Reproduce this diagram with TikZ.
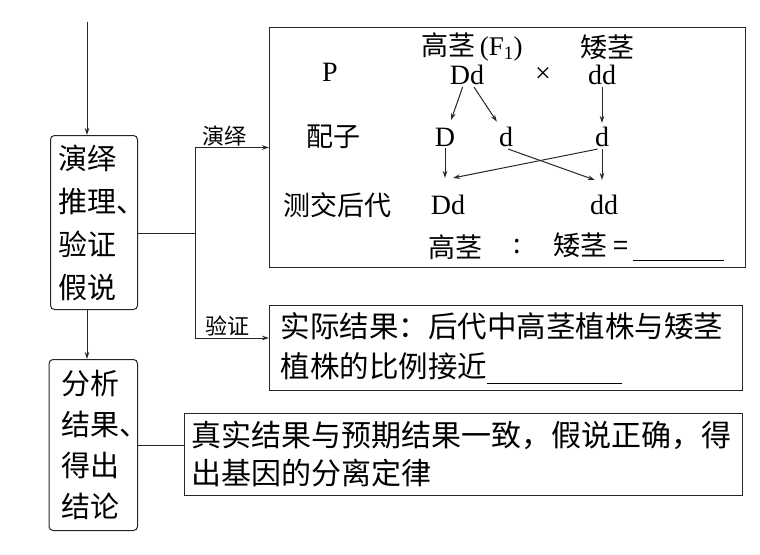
\documentclass[tikz,border=0pt]{standalone}
\usepackage{fontspec}
\setmainfont{Liberation Serif}
\newfontfamily\cjk{Noto Sans CJK SC}
\usetikzlibrary{arrows.meta}
\tikzset{
	line/.style={draw=black!85, line width=1pt},
	arr/.style={line, -{Stealth[length=7pt,width=4.5pt]}},
	box/.style={line, inner ysep=0pt, align=left, anchor=north west},
	side/.style={box, rounded corners=4pt, font=\cjk\fontsize{29}{43}\selectfont},
	wide/.style={box, font=\cjk\fontsize{29.5}{40}\selectfont},
	lab/.style={inner sep=2pt, font=\cjk\fontsize{27}{27}\selectfont},
	gen/.style={inner sep=2pt, font=\fontsize{28}{28}\selectfont},
	edgelab/.style={above, inner sep=1pt, font=\cjk\fontsize{22}{22}\selectfont}
}

\begin{document}
\begin{tikzpicture}[x=1pt, y=-1pt]
			%%%%% START %%%%%
			\useasboundingbox (0, 0) rectangle (760, 554);
			
			\coordinate (origin) at (87, 22);
			\node[side, minimum width=87pt, minimum height=174pt, inner xsep=8pt, text width=71pt] (deduce) at (50, 135) {演绎\\推理、\\验证\\假说};
			\node[side, minimum width=88.5pt, minimum height=171pt, inner xsep=12.5pt, text width=63.5pt, font=\cjk\fontsize{29}{40.7}\selectfont] (conclude) at (48.5, 359) {分析\\结果、\\得出\\结论};
			\draw[arr] (origin) -- (origin |- deduce.north);
			\draw[arr] (deduce.south -| origin) -- (conclude.north -| origin);
			
			% test cross
			\node[box, minimum width=476pt, minimum height=240pt] (cross) at (269, 27) {};
			\node[gen] (rowP) at (330, 72) {P};
			\node[lab] (tall) at (472, 47) {高茎\,{\rmfamily (F\textsubscript{1})}};
			\node[lab] (short) at (607, 47) {矮茎};
			\node[gen] (pDd) at (467, 75) {Dd};
			\node[gen] (times) at (543, 75) {×};
			\node[gen] (pdd) at (602, 75) {dd};
			
			\node[lab] (rowG) at (333, 137) {配子};
			\node[gen] (gD) at (445, 137) {D};
			\node[gen] (gd) at (506, 137) {d};
			\node[gen] (gdd) at (602, 137) {d};
			
			\node[lab] (rowO) at (337, 205) {测交后代};
			\node[gen] (oDd) at (448, 205) {Dd};
			\node[gen] (odd) at (604, 205) {dd};
			
			\node[lab] (ratioT) at (455, 247) {高茎};
			\node[lab] (ratioC) at (517, 247) {:};
			\node[lab, anchor=west] (ratioS) at (551, 247) {矮茎 =\,\rule[-6pt]{91pt}{0.9pt}};
			
			\draw[arr, shorten >=6pt] (pDd.-110) -- (gD.70);
			\draw[arr, shorten >=4pt] (pDd.-60) -- (gd.120);
			\draw[arr, shorten >=2pt] (pdd.south) -- (gdd.north);
			\draw[arr, shorten >=15pt] (gD.south) -- (gD.south |- oDd.north);
			\draw[arr, shorten >=13pt] (gdd.south) -- (gdd.south |- odd.north);
			\draw[arr] (gd.-80) -- ([xshift=7pt, yshift=13pt]odd.north west);
			\draw[arr] (gdd.-110) -- ([xshift=5pt, yshift=15pt]oDd.north);
			
			% results
			\node[wide, minimum width=473pt, minimum height=85pt, inner xsep=11pt, text width=451pt] (actual) at (269, 305) {实际结果：后代中高茎植株与矮茎\\植株的比例接近\rule[-6pt]{135pt}{0.9pt}};
			\node[wide, minimum width=558pt, minimum height=82pt, inner xsep=7pt, text width=544pt, font=\cjk\fontsize{30}{38}\selectfont] (truth) at (184, 413) {真实结果与预期结果一致，假说正确，得\\出基因的分离定律};
			
			\coordinate (split) at (195, 233);
			\draw[line] (deduce.east |- split) -- (split);
			\draw[arr] (split) |- node[pos=0.7, edgelab] {演绎} (cross.west);
			\draw[arr] (split) |- node[pos=0.72, edgelab] {验证} ([yshift=10pt]actual.west);
			\draw[line] (conclude.east) -- (conclude.east -| truth.west);
			%%%%% END %%%%%
\end{tikzpicture}
\end{document}
